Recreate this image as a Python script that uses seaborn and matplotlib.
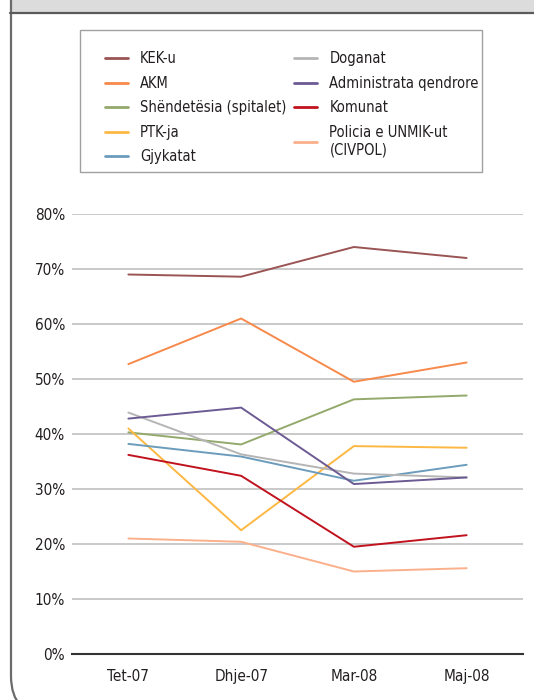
import matplotlib
matplotlib.use("Agg")
import matplotlib.pyplot as plt
from matplotlib.patches import Rectangle
from matplotlib.path import Path
from matplotlib.patches import PathPatch
from matplotlib.ticker import FixedLocator, FuncFormatter
import numpy as np
import pandas as pd
import seaborn as sns

# Survey periods
periods = ["Tet-07", "Dhje-07", "Mar-08", "Maj-08"]

# Share of respondents per institution (%)
kek = [69.0, 68.6, 74.0, 72.0]
akm = [52.7, 61.0, 49.5, 53.0]
shendetesia = [40.3, 38.1, 46.3, 47.0]
ptk = [41.0, 22.5, 37.8, 37.5]
gjykatat = [38.2, 35.9, 31.5, 34.4]
doganat = [43.9, 36.3, 32.8, 32.1]
administrata = [42.8, 44.8, 30.9, 32.1]
komunat = [36.2, 32.4, 19.5, 21.6]
policia = [21.0, 20.4, 15.0, 15.6]

series_names = [
    "KEK-u", "AKM", "Shëndetësia (spitalet)", "PTK-ja", "Gjykatat",
    "Doganat", "Administrata qendrore", "Komunat", "Policia e UNMIK-ut\n(CIVPOL)",
]
series_values = [kek, akm, shendetesia, ptk, gjykatat,
                 doganat, administrata, komunat, policia]
series_colors = ["#9b5454", "#f7894a", "#94a96c", "#fdb843", "#6b9cbc",
                 "#b5b5b5", "#6c5a93", "#c1121f", "#fbb08c"]

y_ticks = [0, 10, 20, 30, 40, 50, 60, 70, 80]

rows = []
for name, vals in zip(series_names, series_values):
    for p, v in zip(periods, vals):
        rows.append({"period": p, "value": v, "series": name})
df = pd.DataFrame(rows)

sns.set_theme(style="white")
plt.rcParams["font.family"] = ["DejaVu Sans", "Liberation Sans"]
plt.rcParams["font.stretch"] = "condensed"
text_color = "#231f20"

W, H = 534, 700
fig = plt.figure(figsize=(W / 100, H / 100), dpi=100)

# Page frame: header band and rounded left border
fig.patches.append(Rectangle((10 / W, 1 - 12 / H), 1, 12 / H, transform=fig.transFigure,
                             facecolor="#dcdcdc", edgecolor="none", zorder=-5))
fig.add_artist(plt.Line2D([10 / W, 1], [1 - 12.8 / H, 1 - 12.8 / H], transform=fig.transFigure,
                          color="#5a5a5a", lw=1.6))
r = 40
x0, ybot = 11, 716
verts = [(x0, 0), (x0, ybot - r), (x0, ybot), (x0 + r, ybot), (W + 10, ybot)]
codes = [Path.MOVETO, Path.LINETO, Path.CURVE3, Path.CURVE3, Path.LINETO]
verts_fig = [(vx / W, 1 - vy / H) for vx, vy in verts]
fig.patches.append(PathPatch(Path(verts_fig, codes), transform=fig.transFigure,
                             facecolor="none", edgecolor="#6b6b6b", lw=1.6, zorder=-5))

# Legend frame
lx0, ly0, lx1, ly1 = 80, 30, 482, 172
fig.patches.append(Rectangle((lx0 / W, 1 - ly1 / H), (lx1 - lx0) / W, (ly1 - ly0) / H,
                             transform=fig.transFigure, facecolor="none",
                             edgecolor="#a0a0a0", lw=1.0, zorder=-5))

ax = fig.add_axes([72 / W, 46 / H, 451 / W, 440 / H])
ax.set_facecolor("none")
sns.lineplot(data=df, x="period", y="value", hue="series", hue_order=series_names,
             palette=series_colors, sort=False, linewidth=1.4, ax=ax, legend=True)

ax.set_xlim(-0.5, 3.5)
ax.set_ylim(0, 80)
ax.yaxis.set_major_locator(FixedLocator(y_ticks))
ax.yaxis.set_major_formatter(FuncFormatter(lambda v, _: f"{v:.0f}%"))
ax.set_xticks(range(len(periods)))
ax.set_xticklabels(periods)
ax.xaxis.set_minor_locator(FixedLocator([-0.5, 0.5, 1.5, 2.5, 3.5]))
ax.tick_params(axis="x", which="major", length=0, pad=11, labelsize=11, colors=text_color)
ax.tick_params(axis="x", which="minor", length=5, width=1.3, direction="out", color="#333333")
ax.tick_params(axis="y", length=0, pad=5, labelsize=11, colors=text_color)
ax.set_xlabel("")
ax.set_ylabel("")
ax.grid(axis="y", color="#c0c0c0", lw=1.2)
ax.grid(axis="x", visible=False)
ax.set_axisbelow(True)
for side in ["top", "right", "left"]:
    ax.spines[side].set_visible(False)
ax.spines["bottom"].set_color("#333333")
ax.spines["bottom"].set_linewidth(1.5)

handles, labels = ax.get_legend_handles_labels()
leg = ax.legend(handles, labels, ncol=2, loc="upper left", frameon=False,
                bbox_to_anchor=(105 / W, 1 - 51 / H), bbox_transform=fig.transFigure,
                fontsize=10.5, handlelength=1.55, handletextpad=0.85, columnspacing=0.55,
                labelspacing=0.66, borderpad=0, borderaxespad=0, labelcolor=text_color)
for line in leg.get_lines():
    line.set_linewidth(2.0)

fig.savefig("out.png", dpi=100, facecolor="white")
